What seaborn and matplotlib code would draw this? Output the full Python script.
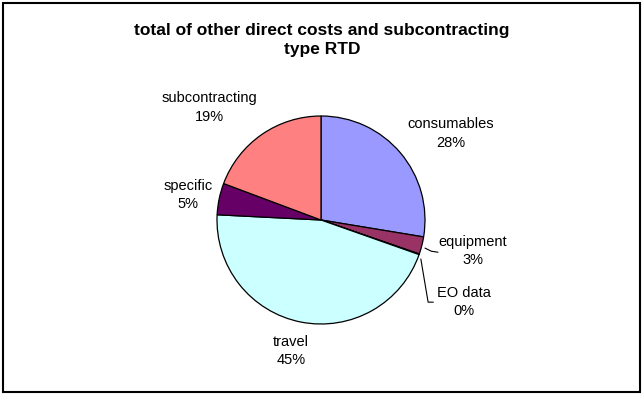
import matplotlib
matplotlib.use("Agg")
import matplotlib.pyplot as plt
import matplotlib.patches as mpatches
import seaborn as sns
import numpy as np

# share of each cost type (percent)
categories = ["consumables", "equipment", "EO data", "travel", "specific", "subcontracting"]
shares = [27.6, 2.7, 0.1, 45.4, 4.9, 19.3]
pct_labels = ["28%", "3%", "0%", "45%", "5%", "19%"]
colors = ["#9999FF", "#993366", "#FFFFCC", "#CCFFFF", "#660066", "#FF8080"]

title = "total of other direct costs and subcontracting\ntype RTD"

sns.set_style("white")
plt.rcParams["font.family"] = ["Liberation Sans", "DejaVu Sans"]
plt.rcParams["text.color"] = "black"

W, H = 642, 394
fig = plt.figure(figsize=(W / 100, H / 100), dpi=100)
fig.patch.set_facecolor("white")

# outer chart border
fig.patches.append(mpatches.Rectangle((3 / W, 2 / H), (640 - 3) / W, (392 - 3) / H,
                                      transform=fig.transFigure, fill=False,
                                      edgecolor="black", linewidth=1.5))

# pie: centre (321, 220) px, radius 104 px
cx, cy, R = 321, H - 220, 104
half = 1.25 * R
ax = fig.add_axes([(cx - half) / W, (cy - half) / H, 2 * half / W, 2 * half / H])
wedges, _ = ax.pie(shares, colors=colors, startangle=90, counterclock=False,
                   wedgeprops=dict(edgecolor="black", linewidth=0.9))
ax.set_xlim(-1.25, 1.25)
ax.set_ylim(-1.25, 1.25)
ax.set_aspect("equal")
ax.axis("off")

# label anchors (data units of the pie axes)
label_pos = {
    "consumables": (1.25, 0.83),
    "equipment": (1.46, -0.30),
    "EO data": (1.37, -0.79),
    "travel": (-0.29, -1.26),
    "specific": (-1.28, 0.24),
    "subcontracting": (-1.07, 1.08),
}
for name, pct in zip(categories, pct_labels):
    x, y = label_pos[name]
    ax.text(x, y, name + "\n" + pct, ha="center", va="center", fontsize=10.5,
            color="black", linespacing=1.4, clip_on=False)

# leader lines for the thin slices
ax.plot([1.0, 1.06, 1.125], [-0.27, -0.30, -0.31], color="black", lw=0.8, clip_on=False)
ax.plot([0.96, 1.03, 1.08], [-0.375, -0.79, -0.79], color="black", lw=0.8, clip_on=False)

fig.text(322 / W, 1 - 40 / H, title, ha="center", va="center", fontsize=12.5,
         fontweight="bold", color="black", linespacing=1.3)

fig.savefig("out.png", dpi=100)
